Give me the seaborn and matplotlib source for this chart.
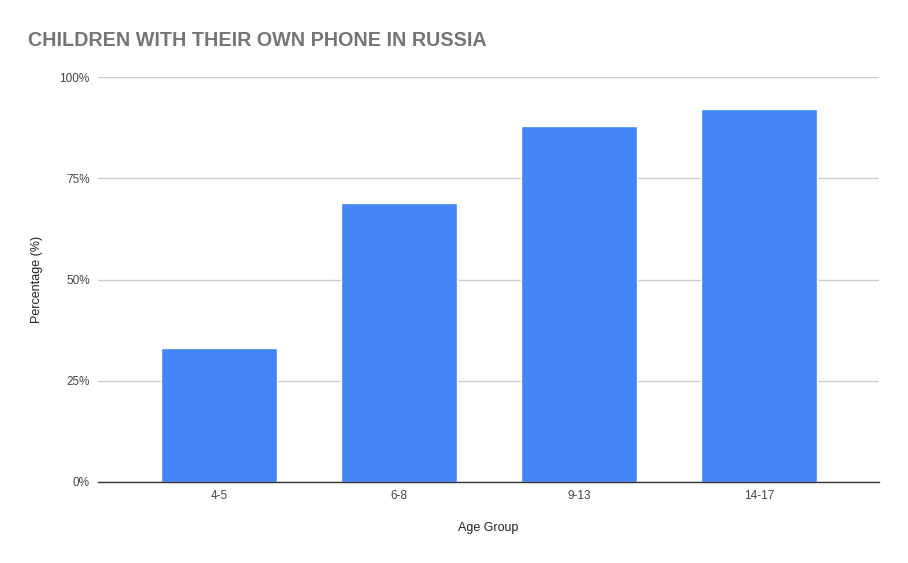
import matplotlib as mpl; mpl.use("Agg")
import matplotlib.pyplot as plt
import seaborn as sns
import pandas as pd
from matplotlib.ticker import PercentFormatter

# values
AGE_GROUPS=["4-5","6-8","9-13","14-17"]
PCT=[33,69,88,92]
YTICKS=[0,25,50,75,100]

sns.set_theme(style="white")
plt.rcParams["font.family"]=["Liberation Sans","DejaVu Sans"]

df=pd.DataFrame({"Age Group":AGE_GROUPS,"Percentage (%)":PCT})
fig=plt.figure(figsize=(9.08,5.63),dpi=100)
ax=fig.add_axes([98/908,1-482/563,(879-98)/908,(482-77)/563])
sns.barplot(data=df,x="Age Group",y="Percentage (%)",color="#4285F4",saturation=1,width=0.645,ax=ax)
ax.set_ylim(0,100); ax.set_xlim(-0.672,3.667)
ax.set_yticks(YTICKS)
ax.yaxis.set_major_formatter(PercentFormatter(decimals=0))
ax.grid(axis="y",color="#cccccc",lw=1); ax.set_axisbelow(True)
for s in ("top","right","left"): ax.spines[s].set_visible(False)
ax.spines["bottom"].set_color("#333333"); ax.spines["bottom"].set_linewidth(1)
ax.tick_params(axis="both",length=0,labelsize=8.5,colors="#444444",pad=6)
ax.set_xlabel("Age Group",fontsize=9,color="#222222",labelpad=14)
ax.set_ylabel("Percentage (%)",fontsize=9,color="#222222",labelpad=12)
fig.text(28/908,1-40/563,"CHILDREN WITH THEIR OWN PHONE IN RUSSIA",fontsize=14.2,fontweight="bold",color="#757575",va="center",ha="left")
fig.savefig("out.png",dpi=100,facecolor="white")
